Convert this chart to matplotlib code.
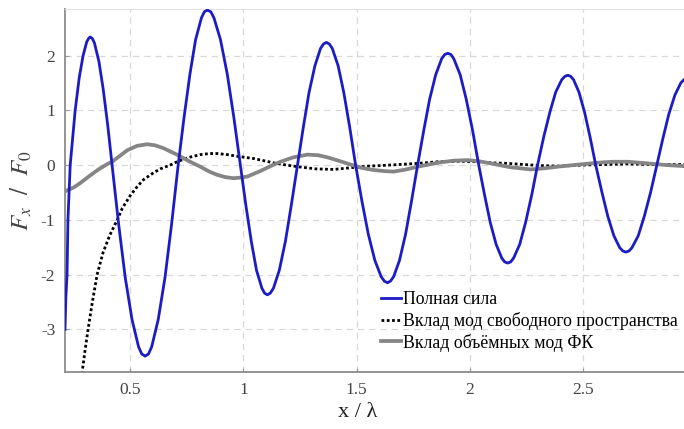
import matplotlib
matplotlib.use("Agg")
import matplotlib.pyplot as plt

# Полная сила (total force)
x_total = [0.212, 0.216, 0.221, 0.225, 0.235, 0.257, 0.275, 0.292, 0.308, 0.316, 0.323,
           0.333, 0.342, 0.362, 0.381, 0.401, 0.420,
           0.449, 0.478, 0.508, 0.537, 0.551, 0.566,
           0.581, 0.595, 0.624, 0.654, 0.683, 0.712,
           0.738, 0.764, 0.789, 0.815, 0.828, 0.841,
           0.856, 0.870, 0.899, 0.929, 0.958, 0.987,
           1.011, 1.035, 1.058, 1.082, 1.094, 1.106,
           1.119, 1.133, 1.159, 1.186, 1.212, 1.239,
           1.265, 1.290, 1.316, 1.341, 1.354, 1.367,
           1.380, 1.393, 1.419, 1.444, 1.470, 1.496,
           1.524, 1.552, 1.581, 1.609, 1.623, 1.637,
           1.650, 1.664, 1.690, 1.717, 1.743, 1.770,
           1.797, 1.823, 1.850, 1.876, 1.890, 1.903,
           1.917, 1.930, 1.958, 1.985, 2.013, 2.040,
           2.066, 2.091, 2.117, 2.142, 2.155, 2.168,
           2.181, 2.194, 2.221, 2.247, 2.274, 2.300,
           2.327, 2.354, 2.380, 2.407, 2.421, 2.434,
           2.446, 2.459, 2.483, 2.508, 2.532, 2.557,
           2.584, 2.610, 2.637, 2.663, 2.677, 2.690,
           2.704, 2.717, 2.745, 2.772, 2.800, 2.827,
           2.854, 2.880, 2.907, 2.933, 2.947, 2.960]
f_total = [-3.00, -2.40, -2.00, -1.00, 0.00, 1.00, 1.60, 2.00, 2.25, 2.31, 2.34,
           2.31, 2.23, 1.89, 1.38, 0.72, 0.00,
           -1.08, -2.05, -2.82, -3.32, -3.45, -3.49,
           -3.45, -3.32, -2.82, -2.05, -1.08, 0.00,
           0.87, 1.66, 2.29, 2.69, 2.80, 2.83,
           2.80, 2.69, 2.29, 1.66, 0.87, 0.00,
           -0.73, -1.39, -1.92, -2.25, -2.34, -2.37,
           -2.34, -2.25, -1.92, -1.39, -0.73, 0.00,
           0.69, 1.32, 1.81, 2.13, 2.21, 2.24,
           2.21, 2.13, 1.81, 1.32, 0.69, 0.00,
           -0.66, -1.26, -1.74, -2.04, -2.12, -2.15,
           -2.12, -2.04, -1.74, -1.26, -0.66, 0.00,
           0.63, 1.20, 1.65, 1.94, 2.02, 2.04,
           2.02, 1.94, 1.65, 1.20, 0.63, 0.00,
           -0.55, -1.05, -1.45, -1.70, -1.77, -1.79,
           -1.77, -1.70, -1.45, -1.05, -0.55, 0.00,
           0.51, 0.96, 1.33, 1.56, 1.62, 1.64,
           1.62, 1.56, 1.33, 0.96, 0.51, 0.00,
           -0.49, -0.93, -1.29, -1.51, -1.57, -1.59,
           -1.57, -1.51, -1.29, -0.93, -0.49, 0.00,
           0.49, 0.93, 1.28, 1.50, 1.56, 1.58]

# Вклад мод свободного пространства (free-space modes)
x_free = [0.280, 0.288, 0.300, 0.314, 0.333, 0.354, 0.380, 0.410, 0.443, 0.465,
          0.500, 0.530, 0.558, 0.600, 0.633, 0.677, 0.712, 0.760, 0.810, 0.850,
          0.885, 0.930, 0.973, 1.044, 1.090, 1.133, 1.190, 1.239, 1.320, 1.398,
          1.450, 1.496, 1.550, 1.606, 1.690, 1.770, 1.860, 1.947, 2.030, 2.100,
          2.168, 2.240, 2.310, 2.400, 2.500, 2.600, 2.700, 2.800, 2.950]
f_free = [-4.10, -3.78, -3.40, -3.00, -2.50, -2.00, -1.60, -1.28, -1.00, -0.79,
          -0.56, -0.40, -0.27, -0.15, -0.07, 0.00, 0.07, 0.14, 0.19, 0.21,
          0.21, 0.19, 0.16, 0.12, 0.08, 0.04, 0.00, -0.03, -0.07, -0.08,
          -0.06, -0.04, -0.02, -0.01, 0.01, 0.03, 0.06, 0.07, 0.06, 0.04,
          0.03, 0.01, -0.01, -0.02, 0.00, 0.01, 0.02, 0.01, 0.01]

# Вклад объёмных мод ФК (bulk photonic-crystal modes)
x_bulk = [0.212, 0.250, 0.279, 0.320, 0.360, 0.400, 0.420, 0.487, 0.530, 0.575,
          0.610, 0.646, 0.712, 0.760, 0.810, 0.850, 0.885, 0.920, 0.956, 0.987,
          1.018, 1.075, 1.120, 1.164, 1.220, 1.283, 1.330, 1.372, 1.420, 1.473,
          1.520, 1.575, 1.620, 1.664, 1.720, 1.770, 1.820, 1.872, 1.930, 1.991,
          2.040, 2.093, 2.180, 2.270, 2.330, 2.390, 2.460, 2.535, 2.590, 2.637,
          2.700, 2.788, 2.870, 2.947]
f_bulk = [-0.48, -0.41, -0.33, -0.20, -0.08, 0.02, 0.06, 0.27, 0.35, 0.38,
          0.36, 0.31, 0.18, 0.07, -0.03, -0.12, -0.18, -0.22, -0.24, -0.23,
          -0.21, -0.11, -0.02, 0.06, 0.14, 0.19, 0.18, 0.14, 0.08, 0.01,
          -0.05, -0.09, -0.11, -0.12, -0.08, -0.03, 0.01, 0.05, 0.08, 0.09,
          0.07, 0.03, -0.04, -0.08, -0.06, -0.03, 0.00, 0.03, 0.05, 0.06,
          0.06, 0.03, 0.00, -0.02]

x_ticks = [0.5, 1, 1.5, 2, 2.5]
x_ticklabels = ["0.5", "1", "1.5", "2", "2.5"]
y_ticks = [-3, -2, -1, 0, 1, 2]
y_ticklabels = ["-3", "-2", "-1", "0", "1", "2"]
labels = ["Полная сила", "Вклад мод свободного пространства", "Вклад объёмных мод ФК"]

plt.rcParams["font.family"] = ["Liberation Serif", "DejaVu Serif"]
plt.rcParams["mathtext.fontset"] = "stix"

fig = plt.figure(figsize=(6.84, 4.29), dpi=100)
ax = fig.add_axes([65 / 684, 1 - 372 / 429, 1 - 65 / 684, (372 - 9) / 429])

ax.plot(x_total, f_total, color="#1c1cc4", lw=2.0, label=labels[0], zorder=3)
ax.plot(x_free, f_free, color="black", lw=2.0, ls=(0, (1, 0.9)), label=labels[1], zorder=2)
ax.plot(x_bulk, f_bulk, color="#858585", lw=2.7, label=labels[2], zorder=2)

ax.set_xlim(0.212, 2.947)
ax.set_ylim(-3.78, 2.85)
ax.set_xticks(x_ticks)
ax.set_xticklabels(x_ticklabels)
ax.set_yticks(y_ticks)
ax.set_yticklabels(y_ticklabels)
ax.tick_params(direction="in", length=3, colors="#999999", labelcolor="#444444",
               labelsize=12.5, pad=7)

ax.grid(True, ls=(0, (5, 4)), color="#d8d8d8", lw=0.9)
ax.set_axisbelow(True)

for s in ["left", "bottom"]:
    ax.spines[s].set_color("#8c8c8c")
    ax.spines[s].set_linewidth(1.3)
ax.spines["top"].set_color("#e2e2e2")
ax.spines["top"].set_linewidth(0.8)
ax.spines["right"].set_visible(False)

ax.set_xlabel("x / λ", fontsize=16, color="#222222")
ax.xaxis.set_label_coords((358 - 65) / 619, -0.085)
ax.set_ylabel(r"$F_x\ \ /\ \ F_0$", fontsize=18, color="#444444")
ax.yaxis.set_label_coords(-0.05, 0.5)

leg = ax.legend(loc="upper left", bbox_to_anchor=(0.51, 0.222), frameon=False,
                fontsize=12.8, handlelength=1.15, handletextpad=0.1,
                labelspacing=0.2, borderaxespad=0, borderpad=0)

fig.savefig("out.png", dpi=100)
